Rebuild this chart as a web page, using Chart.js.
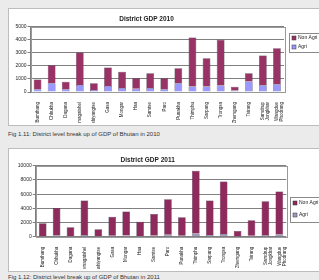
<!DOCTYPE html>
<html lang="en">
<head>
<meta charset="utf-8">
<title>District GDP</title>
<script src="https://cdn.jsdelivr.net/npm/chart.js"></script>
<style>
body{margin:0;background:#ebebeb;width:319px;height:280px;overflow:hidden;position:relative;font-family:"Liberation Sans",Arial,sans-serif}
.panel{position:absolute;left:8px;width:316px;background:#fff;border:1px solid #bdbdbd}
#p1{top:8px;height:116px}
#p2{top:148px;height:122px}
.cap{position:absolute;left:8px;font-size:6px;color:#333;white-space:nowrap}
</style>
</head>
<body>
<div class="panel" id="p1"><canvas id="c1" width="316" height="116"></canvas></div>
<div class="cap" style="top:131px">Fig 1.11: District level break up of GDP of Bhutan in 2010</div>
<div class="panel" id="p2"><canvas id="c2" width="316" height="122"></canvas></div>
<div class="cap" style="top:274px">Fig 1.12: District level break up of GDP of Bhutan in 2011</div>

<script>
// districts (labels are hard to read in the source, best guesses)
const districts = ["Bumthang", "Chhukha", "Dagana", "Pemagatshel", "Trashiyangtse", "Gasa",
  "Mongar", "Haa", "Samtse", "Paro", "Punakha", "Thimphu", "Sarpang", "Trongsa",
  "Zhemgang", "Tsirang", ["Samdrup", "Jongkhar"], ["Wangdue", "Phodrang"]];

const seriesNames = ["Agri", "Non Agri"];

// 2010, stacked: agri at the bottom, non agri on top
const agri2010    = [220, 670, 210, 540, 160, 460, 300, 250, 300, 220, 670, 420, 420, 500, 110, 800, 520, 600];
const nonAgri2010 = [730, 1380, 580, 2480, 510, 1410, 1260, 800, 1140, 830, 1150, 3760, 2170, 3500, 300, 640, 2270, 2760];
const ticks2010 = [0, 1000, 2000, 3000, 4000, 5000];

// 2011
const agri2011    = [90, 200, 70, 250, 50, 140, 180, 100, 160, 260, 140, 460, 250, 390, 40, 120, 250, 320];
const nonAgri2011 = [1810, 3860, 1260, 4840, 1000, 2690, 3360, 2020, 3050, 5030, 2600, 8830, 4870, 7390, 760, 2200, 4760, 6050];
const ticks2011 = [0, 2000, 4000, 6000, 8000, 10000];

const font = '"Liberation Sans", Arial, sans-serif';

// plot area frame
const frame = {
  id: 'frame',
  afterDraw(chart) {
    const a = chart.chartArea, c = chart.ctx;
    c.save();
    c.strokeStyle = '#9a9a9a';
    c.lineWidth = 1;
    c.strokeRect(Math.round(a.left) + 0.5, Math.round(a.top) + 0.5, Math.round(a.right - a.left), Math.round(a.bottom - a.top));
    c.restore();
  }
};

// excel-like boxed legend at the right, top series listed first
const boxLegend = {
  id: 'boxLegend',
  afterDraw(chart, args, o) {
    const c = chart.ctx;
    const ds = chart.data.datasets.slice().reverse();
    c.save();
    c.fillStyle = '#fff';
    c.strokeStyle = '#8a8a8a';
    c.lineWidth = 1;
    c.fillRect(o.x, o.y, o.w, o.h);
    c.strokeRect(o.x + 0.5, o.y + 0.5, o.w, o.h);
    c.font = '5px ' + font;
    c.textBaseline = 'middle';
    ds.forEach((d, i) => {
      const y = o.y + o.first + i * o.gap;
      c.fillStyle = d.backgroundColor;
      c.fillRect(o.x + 3, y - 2, 4, 4);
      c.strokeStyle = '#333';
      c.lineWidth = 0.5;
      c.strokeRect(o.x + 3, y - 2, 4, 4);
      c.fillStyle = '#222';
      c.fillText(d.label, o.x + 9, y);
    });
    c.restore();
  }
};

function makeChart(id, title, agri, nonAgri, ticks, box) {
  return new Chart(document.getElementById(id), {
    type: 'bar',
    data: {
      labels: districts,
      datasets: [
        { label: seriesNames[0], data: agri, backgroundColor: box.c0, borderColor: '#3a2a40', borderWidth: 0.5 },
        { label: seriesNames[1], data: nonAgri, backgroundColor: box.c1, borderColor: '#3a2a40', borderWidth: 0.5 }
      ]
    },
    options: {
      responsive: false,
      animation: false,
      devicePixelRatio: 1,
      layout: { padding: { left: 0, right: box.padRight, top: box.padTop, bottom: 2 } },
      datasets: { bar: { categoryPercentage: 1, barPercentage: 0.55 } },
      plugins: {
        legend: { display: false },
        tooltip: { enabled: false },
        title: {
          display: true, text: title, color: '#222',
          font: { family: font, size: 6.5, weight: 'bold', lineHeight: 1.2 },
          padding: { top: 4, bottom: box.titleBottom }
        },
        boxLegend: box.legend
      },
      scales: {
        x: {
          stacked: true,
          grid: { display: false },
          border: { display: false },
          ticks: {
            autoSkip: false, minRotation: 90, maxRotation: 90, padding: 2, color: '#222',
            font: { family: font, size: 4.5, lineHeight: 1.1 }
          },
          afterFit: s => { s.height = box.xHeight; }
        },
        y: {
          stacked: true,
          min: ticks[0], max: ticks[ticks.length - 1],
          afterBuildTicks: s => { s.ticks = ticks.map(v => ({ value: v })); },
          grid: { color: '#808080', lineWidth: 1, tickLength: 3 },
          border: { display: true, color: '#808080' },
          ticks: { padding: 1, color: '#222', font: { family: font, size: 5 }, callback: v => String(v) },
          afterFit: s => { s.width = box.yWidth; }
        }
      }
    },
    plugins: [frame, boxLegend]
  });
}

makeChart('c1', 'District GDP 2010', agri2010, nonAgri2010, ticks2010, {
  c0: '#9999ff', c1: '#993366', padRight: 41, padTop: 2, titleBottom: 4,
  xHeight: 31, yWidth: 21.5,
  legend: { x: 280, y: 24, w: 40, h: 19, first: 5, gap: 9 }
});

makeChart('c2', 'District GDP 2011', agri2011, nonAgri2011, ticks2011, {
  c0: '#9c9cc0', c1: '#8e2a5c', padRight: 38.7, padTop: 3, titleBottom: 2,
  xHeight: 32.3, yWidth: 26.7,
  legend: { x: 281, y: 48, w: 40, h: 25, first: 6, gap: 12 }
});
</script>
</body>
</html>
